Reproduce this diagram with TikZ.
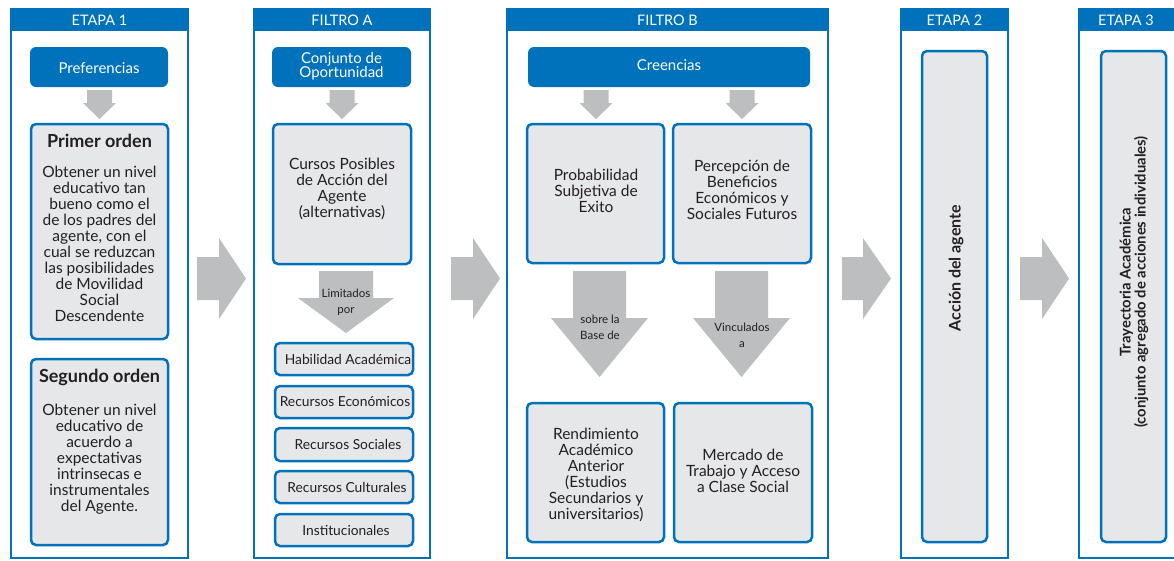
\documentclass[tikz,border=0pt]{standalone}
\usepackage{fontspec}
\setmainfont{Lato}
\usetikzlibrary{fit}
\definecolor{cblue}{HTML}{0072BC}
\definecolor{cgray}{HTML}{BCBEC0}
\definecolor{cfill}{HTML}{E6E7E8}
\definecolor{ctext}{HTML}{231F20}
\newcommand\rarrowshape[6]{% x0 xstem xtip ycenter stemhalf headhalf
  \fill[cgray] (#1,#4-#5) -- (#2,#4-#5) -- (#2,#4-#6) -- (#3,#4) -- (#2,#4+#6) -- (#2,#4+#5) -- (#1,#4+#5) -- cycle;}
\newcommand\darrowshape[6]{% xcenter ytop yhead ytip stemhalf headhalf
  \fill[cgray] (#1-#5,#2) -- (#1+#5,#2) -- (#1+#5,#3) -- (#1+#6,#3) -- (#1,#4) -- (#1-#6,#3) -- (#1-#5,#3) -- cycle;}
\begin{document}
\begin{tikzpicture}[x=1pt,y=-1pt,
  column/.style={draw=cblue, line width=2.2pt, inner sep=0pt},
  header/.style={fill=cblue, inner sep=0pt},
  headtxt/.style={text=white, inner sep=0pt, font=\fontsize{14.5}{15}\selectfont},
  bluebox/.style={fill=cblue, rounded corners=6pt, inner sep=0pt},
  bluetxt/.style={text=white, align=center, inner sep=0pt, font=\fontsize{15}{14}\selectfont},
  graybox/.style={draw=cblue, line width=2.5pt, fill=cfill, rounded corners=5pt, inner sep=0pt},
  txt/.style={align=center, text=ctext, inner sep=0pt, font=\fontsize{15.5}{16}\selectfont},
  smalltxt/.style={txt, font=\fontsize{13.8}{14}\selectfont},
  ttl/.style={txt, font=\fontsize{18}{20}\bfseries\selectfont},
  arrlabel/.style={align=center, text=ctext, inner sep=0pt, font=\fontsize{11.5}{16}\selectfont}
]
\useasboundingbox (0,0) rectangle (1174,560);
\clip (0,0) rectangle (1174,560);
\fill[white] (0,0) rectangle (1174,560);

% ---- columns
\node[column, fit={(11,9)(188,558)}] (col1) {};
\node[header, fit={(11,9)(188,31)}] (h1) {};
\node[headtxt] at (99.5,20) {ETAPA 1};
\node[column, fit={(254,9)(430,558)}] (col2) {};
\node[header, fit={(254,9)(430,31)}] (h2) {};
\node[headtxt] at (342,20) {FILTRO A};
\node[column, fit={(507,9)(828,558)}] (col3) {};
\node[header, fit={(507,9)(828,31)}] (h3) {};
\node[headtxt] at (667.5,20) {FILTRO B};
\node[column, fit={(901,9)(1008,558)}] (col4) {};
\node[header, fit={(901,9)(1008,31)}] (h4) {};
\node[headtxt] at (954.5,20) {ETAPA 2};
\node[column, fit={(1079,9)(1180,558)}] (col5) {};
\node[header, fit={(1079,9)(1180,31)}] (h5) {};
\node[headtxt] at (1126,20) {ETAPA 3};

% ---- ETAPA 1
\node[bluebox, fit={(30,47)(168,87)}] (pref) {};
\node[bluetxt] at (99,68.5) {Preferencias};
\darrowshape{99.5}{90}{103}{119}{12.5}{16.5}
\node[graybox, fit={(31,124)(168,339)}] (prim) {};
\node[ttl] (primt) at (99.5,141) {Primer orden};
\node[txt] (primb) at (99.5,244) {Obtener un nivel\\educativo tan\\bueno como el\\de los padres del\\agente, con el\\cual se reduzcan\\las posibilidades\\de Movilidad\\Social\\Descendente};
\node[graybox, fit={(31,359)(168,545)}] (seg) {};
\node[ttl] (segt) at (99.5,377) {Segundo orden};
\node[txt] (segb) at (99.5,459) {Obtener un nivel\\educativo de\\acuerdo a\\expectativas\\intrinsecas e\\instrumentales\\del Agente.};

% ---- arrows between columns
\rarrowshape{197}{219}{246}{278.5}{21.5}{40.5}
\rarrowshape{451}{473}{500}{278.5}{21.5}{40.5}
\rarrowshape{842}{863}{891}{278.5}{21.5}{40.5}
\rarrowshape{1020}{1042}{1069}{278.5}{21.5}{40.5}

% ---- FILTRO A
\node[bluebox, fit={(272,47)(411,87)}] (conj) {};
\node[bluetxt] at (341.5,66) {Conjunto de\\Oportunidad};
\darrowshape{342}{90}{103}{119}{12.5}{16.5}
\node[graybox, fit={(273,124)(411,264)}] (cursos) {};
\node[txt] at (342,189) {Cursos Posibles\\de Acción del\\Agente\\(alternativas)};
\darrowshape{346}{271}{298}{333}{27}{48}
\node[arrlabel] (lim) at (346,302) {Limitados\\por};
\node[graybox, fit={(275,343)(413,375)}] (s1) {};
\node[smalltxt] at (348,359) {Habilidad Académica};
\node[graybox, fit={(275,386)(413,418)}] (s2) {};
\node[smalltxt] at (345,402) {Recursos Económicos};
\node[graybox, fit={(275,428)(413,461)}] (s3) {};
\node[smalltxt] at (348,444.5) {Recursos Sociales};
\node[graybox, fit={(275,471)(413,503)}] (s4) {};
\node[smalltxt] at (347,487) {Recursos Culturales};
\node[graybox, fit={(275,514)(413,546)}] (s5) {};
\node[smalltxt] at (346,530) {Institucionales};

% ---- FILTRO B
\node[bluebox, fit={(528,47)(810,87)}] (cree) {};
\node[bluetxt] at (669,65) {Creencias};
\darrowshape{596}{90}{103}{119}{12.5}{16.5}
\darrowshape{742}{90}{103}{119}{12.5}{16.5}
\node[graybox, fit={(527,124)(664,263)}] (prob) {};
\node[txt] at (596,191) {Probabilidad\\Subjetiva de\\Exito};
\node[graybox, fit={(673,124)(811,263)}] (perc) {};
\node[txt] at (742,190) {Percepción de\\Beneficios\\Económicos y\\Sociales Futuros};
\darrowshape{599.5}{271}{318}{377}{26.5}{48.5}
\darrowshape{741.5}{271}{318}{377}{26.5}{48.5}
\node[arrlabel] (sobre) at (600,327) {sobre la\\Base de};
\node[arrlabel] (vinc) at (742,335) {Vinculados\\a};
\node[graybox, fit={(527,403)(664,542)}] (rend) {};
\node[txt] at (596,475) {Rendimiento\\Académico\\Anterior\\(Estudios\\Secundarios y\\universitarios)};
\node[graybox, fit={(674,403)(812,542)}] (merc) {};
\node[txt] at (743,471) {Mercado de\\Trabajo y Acceso\\a Clase Social};

% ---- ETAPA 2
\node[graybox, fit={(922,51)(987,542)}] (acc) {};
\node[txt, rotate=90, font=\fontsize{16}{16}\bfseries\selectfont] (acct) at (956,268) {Acción del agente};

% ---- ETAPA 3
\node[graybox, fit={(1101,51)(1166,542)}] (tray) {};
\node[txt, rotate=90, font=\fontsize{14.8}{15}\bfseries\selectfont] (trayt) at (1134,282) {Trayectoria Académica\\(conjunto agregado de acciones individuales)};
\end{tikzpicture}
\end{document}
